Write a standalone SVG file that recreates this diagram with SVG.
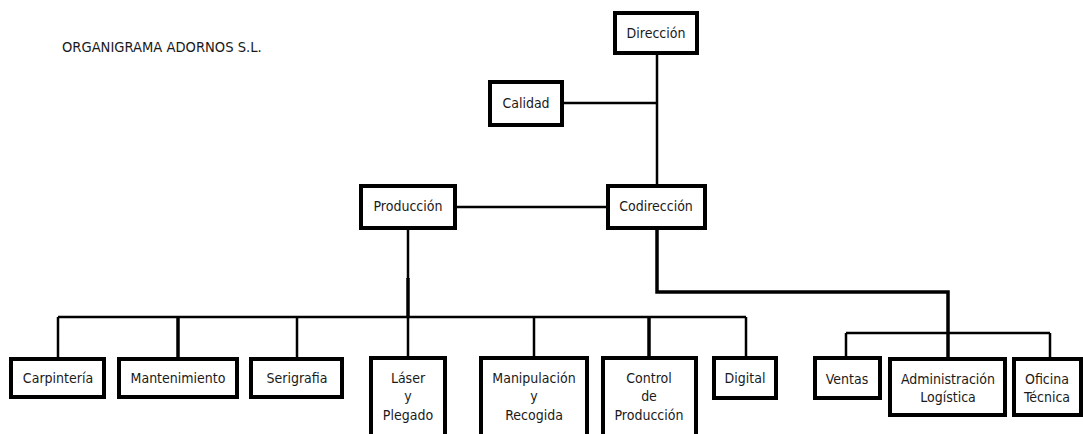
<svg xmlns="http://www.w3.org/2000/svg" width="1083" height="434" viewBox="0 0 1083 434">
<style>
.box{fill:#fff;stroke:#000;stroke-width:4}
.t{font-family:"DejaVu Sans Condensed","DejaVu Sans",sans-serif;font-stretch:condensed;font-size:14px;fill:#1a1a1a;text-anchor:middle}
.c{fill:none;stroke:#000;stroke-width:2.5}
.ck{fill:none;stroke:#000;stroke-width:3.5}
</style>
<rect width="1083" height="434" fill="#fff"/>
<text x="62" y="52" font-family="DejaVu Sans Condensed, DejaVu Sans, sans-serif" font-stretch="condensed" font-size="14.6" fill="#1a1a1a">ORGANIGRAMA ADORNOS S.L.</text>
<g id="connectors">
<path class="c" d="M657 55V184"/>
<path class="c" d="M564 103H657"/>
<path class="c" d="M457 207H606"/>
<path class="c" d="M408 230V279"/>
<path class="ck" d="M408 278V317"/>
<path class="c" d="M58 317H746"/>
<path class="c" d="M58 317V357M297 317V357M534 317V357M746 317V357M408 317V356"/>
<path class="ck" d="M178 317V357M649 317V357"/>
<path class="ck" d="M657 230V292H948V357"/>
<path class="c" d="M846 333H1050M846 333V356M1050 333V357"/>
</g>
<g id="direccion"><rect class="box" x="615" y="13" width="82" height="40"/><text class="t" x="656" y="38">Dirección</text></g>
<g id="calidad"><rect class="box" x="490" y="82" width="72" height="43"/><text class="t" x="526" y="108">Calidad</text></g>
<g id="produccion"><rect class="box" x="361" y="186" width="94" height="42"/><text class="t" x="408" y="211">Producción</text></g>
<g id="codireccion"><rect class="box" x="608" y="186" width="97" height="42"/><text class="t" x="656" y="211">Codirección</text></g>
<g id="carpinteria"><rect class="box" x="11" y="359" width="93" height="38"/><text class="t" x="58" y="383">Carpintería</text></g>
<g id="mantenimiento"><rect class="box" x="119" y="359" width="118" height="38"/><text class="t" x="178" y="383">Mantenimiento</text></g>
<g id="serigrafia"><rect class="box" x="251" y="359" width="91" height="38"/><text class="t" x="297" y="383">Serigrafia</text></g>
<g id="laser"><rect class="box" x="371" y="358" width="74" height="90"/><text class="t" x="408" y="383">Láser</text><text class="t" x="408" y="401">y</text><text class="t" x="408" y="420">Plegado</text></g>
<g id="manipulacion"><rect class="box" x="481" y="358" width="106" height="90"/><text class="t" x="534" y="383">Manipulación</text><text class="t" x="534" y="401">y</text><text class="t" x="534" y="420">Recogida</text></g>
<g id="control"><rect class="box" x="603" y="358" width="93" height="90"/><text class="t" x="649" y="383">Control</text><text class="t" x="649" y="401">de</text><text class="t" x="649" y="420">Producción</text></g>
<g id="digital"><rect class="box" x="714" y="358" width="62" height="40"/><text class="t" x="745" y="383">Digital</text></g>
<g id="ventas"><rect class="box" x="815" y="358" width="65" height="40"/><text class="t" x="847" y="384">Ventas</text></g>
<g id="administracion"><rect class="box" x="890" y="359" width="115" height="56"/><text class="t" x="948" y="384">Administración</text><text class="t" x="948" y="402">Logística</text></g>
<g id="oficina"><rect class="box" x="1014" y="359" width="67" height="56"/><text class="t" x="1047" y="384">Oficina</text><text class="t" x="1047" y="402">Técnica</text></g>
</svg>
